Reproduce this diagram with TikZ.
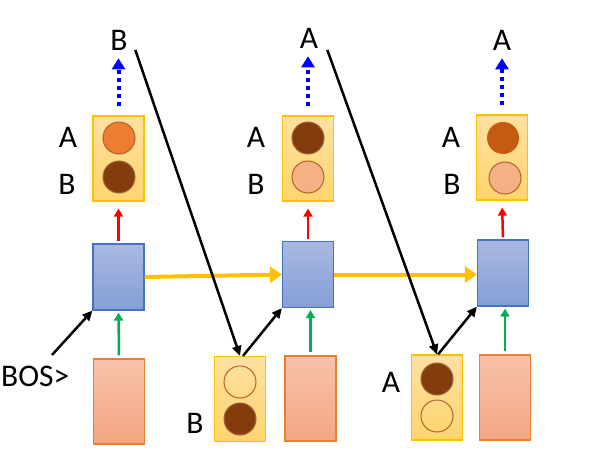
\documentclass[tikz,border=0pt]{standalone}
\usepackage{fontspec}
\setmainfont{Carlito}
\usetikzlibrary{arrows.meta}
\definecolor{ybord}{HTML}{FFC000}
\definecolor{ytop}{RGB}{255,224,160}
\definecolor{ybot}{RGB}{255,213,110}
\definecolor{bbord}{HTML}{4472C4}
\definecolor{btop}{RGB}{170,184,225}
\definecolor{bbot}{RGB}{133,159,215}
\definecolor{pbord}{HTML}{ED7D31}
\definecolor{ptop}{RGB}{247,194,170}
\definecolor{pbot}{RGB}{244,166,130}
\definecolor{corange}{HTML}{ED7D31}
\definecolor{cdark}{HTML}{843C0C}
\definecolor{csalmon}{HTML}{F4B183}
\definecolor{cburnt}{HTML}{C55A11}
\definecolor{cedge}{HTML}{B0602A}
\definecolor{garrow}{HTML}{00B050}
\tikzset{
  ybox/.style={draw=ybord, line width=1.2pt, top color=ytop, bottom color=ybot, minimum width=51pt, minimum height=85pt, inner sep=0pt},
  hbox/.style={draw=bbord, line width=1.2pt, top color=btop, bottom color=bbot, minimum width=51pt, minimum height=66pt, inner sep=0pt},
  pbox/.style={draw=pbord, line width=1.2pt, top color=ptop, bottom color=pbot, minimum width=51pt, minimum height=85pt, inner sep=0pt},
  dot/.style={circle, minimum size=32pt, inner sep=0pt, line width=1pt},
  lbl/.style={inner sep=0pt, font=\fontsize{31.5}{38}\selectfont},
  redarr/.style={draw=red, line width=2.5pt, -{Triangle[length=8pt,width=9pt]}},
  grnarr/.style={draw=garrow, line width=2.5pt, -{Triangle[length=8pt,width=9pt]}},
  yelarr/.style={draw=ybord, line width=4pt, -{Triangle[length=12pt,width=16pt]}},
  bluarr/.style={draw=blue, line width=4pt, dash pattern=on 4pt off 4pt, -{Triangle[length=11pt,width=13pt]}},
  blkarr/.style={draw=black, line width=2.5pt, -{Triangle[length=10pt,width=9pt]}},
}
\begin{document}
\begin{tikzpicture}[x=1pt,y=-1pt]
\useasboundingbox (0,0) rectangle (594,455);
% column 1
\node[ybox] (out1) at (118.5,158.5) {};
\node[dot, fill=corange, draw=cedge] (o1a) at (119,138) {};
\node[dot, fill=cdark, draw=cdark!80!white] (o1b) at (119,177) {};
\node[hbox] (hid1) at (118.5,277) {};
\node[pbox] (pk1) at (119,401.5) {};
\node[lbl] (la1) at (68,137) {A};
\node[lbl] (lb1) at (67,184) {B};
\node[lbl] (top1) at (119,40) {B};
\node[lbl, anchor=west] (bos) at (1,376) {BOS>};
% column 2
\node[ybox] (out2) at (308,158.5) {};
\node[dot, fill=cdark, draw=cdark!80!white] (o2a) at (308,138) {};
\node[dot, fill=csalmon, draw=cedge] (o2b) at (308,177) {};
\node[hbox] (hid2) at (308,274.5) {};
\node[pbox] (pk2) at (310.5,398.5) {};
\node[ybox] (in2) at (240,399) {};
\node[dot, draw=cedge] (i2a) at (240,382) {};
\node[dot, fill=cdark, draw=cdark!80!white] (i2b) at (240,419) {};
\node[lbl] (la2) at (256,137) {A};
\node[lbl] (lb2) at (256,184) {B};
\node[lbl] (top2) at (309,38) {A};
\node[lbl] (lin2) at (195,423) {B};
% column 3
\node[ybox] (out3) at (502,157.5) {};
\node[dot, fill=cburnt] (o3a) at (503,138) {};
\node[dot, fill=csalmon, draw=cedge] (o3b) at (505,178) {};
\node[hbox] (hid3) at (503,273) {};
\node[pbox] (pk3) at (505,397.5) {};
\node[ybox] (in3) at (437,397.5) {};
\node[dot, fill=cdark, draw=cdark!80!white] (i3a) at (437,379) {};
\node[dot, draw=cedge] (i3b) at (437,416) {};
\node[lbl] (la3) at (451,137) {A};
\node[lbl] (lb3) at (452,184) {B};
\node[lbl] (top3) at (502,40) {A};
\node[lbl] (lin3) at (391,382) {A};
% coordinates
\coordinate (s1) at (135,49);
\coordinate (s2) at (327,49);
\coordinate (sb) at (52,355);
% arrows
\draw[redarr, shorten <=2pt, shorten >=7pt] (hid1.north) -- (out1.south);
\draw[redarr, shorten <=2pt, shorten >=7pt] (hid2.north) -- (out2.south);
\draw[redarr, shorten <=2pt, shorten >=7pt] (hid3.north) -- (out3.south);
\draw[grnarr, shorten <=3pt, shorten >=2pt] (pk1.north) -- (hid1.south);
\draw[grnarr, shorten <=3pt, shorten >=2pt] (pk2.north) -- (pk2.north |- hid2.south);
\draw[grnarr, shorten <=3pt, shorten >=2pt] (pk3.north) -- (pk3.north |- hid3.south);
\draw[yelarr] (hid1.east) -- (hid2.west);
\draw[yelarr] (hid2.east) -- (hid2.east -| hid3.west);
\draw[bluarr, shorten <=9pt, shorten >=8pt] (out1.north) -- (out1.north |- top1.south);
\draw[bluarr, shorten <=9pt, shorten >=8pt] (out2.north) -- (out2.north |- top2.south);
\draw[bluarr, shorten <=9pt, shorten >=8pt] (out3.north) -- (out3.north |- top3.south);
\draw[blkarr] (sb) -- (hid1.south west);
\draw[blkarr, shorten <=1pt] (s1) -- (in2.north);
\draw[blkarr, shorten <=1pt] (s2) -- (in3.north);
\draw[blkarr] ([xshift=3pt]in2.north) -- (hid2.south west);
\draw[blkarr] ([xshift=1pt]in3.north) -- (hid3.south west);
\end{tikzpicture}
\end{document}
